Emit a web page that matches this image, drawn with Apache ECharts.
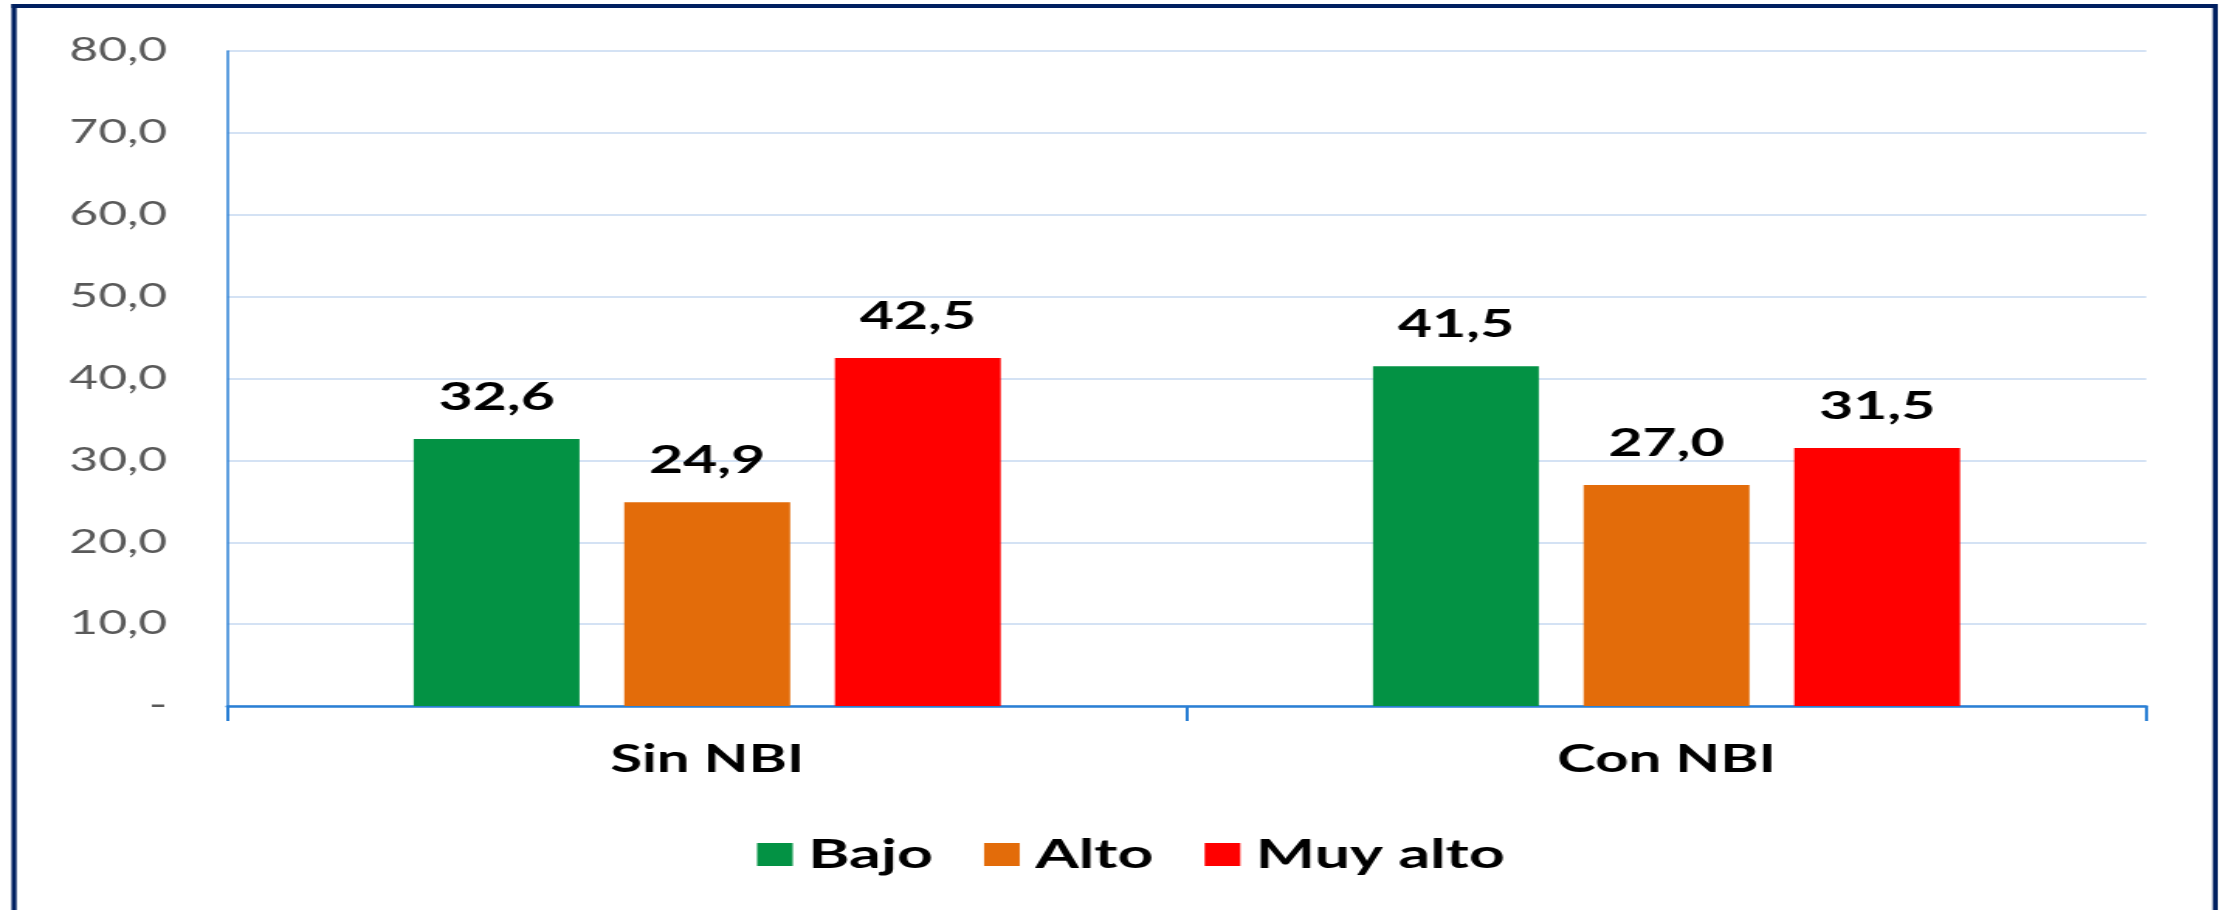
<!DOCTYPE html>
<html>
<head>
<meta charset="utf-8">
<script src="https://cdn.jsdelivr.net/npm/echarts@6/dist/echarts.min.js"></script>
<style>
  html, body { margin: 0; padding: 0; background: #ffffff; overflow: hidden; }
  #chart { position: absolute; left: 0; top: 0; width: 1435px; height: 910px; transform: scaleX(1.54983); transform-origin: 0 0; }
</style>
</head>
<body>
<div id="chart"></div>
<script>
const categories = ['Sin NBI', 'Con NBI'];
const seriesNames = ['Bajo', 'Alto', 'Muy alto'];
const bajo = [32.6, 41.5];
const alto = [24.9, 27.0];
const muyAlto = [42.5, 31.5];
const seriesColors = ['#039244', '#E36C0A', '#FF0000'];
const yTickValues = [0, 10, 20, 30, 40, 50, 60, 70, 80];
const yTickLabels = ['-', '10,0', '20,0', '30,0', '40,0', '50,0', '60,0', '70,0', '80,0'];

const FONT = 'Lato';
const seriesData = [bajo, alto, muyAlto];

function fmt(v) { return v.toFixed(1).replace('.', ','); }

const chart = echarts.init(document.getElementById('chart'), null, { renderer: 'canvas' });

const option = {
  backgroundColor: '#ffffff',
  animation: false,
  grid: { left: 146.8, right: 50.2, top: 51, bottom: 204, containLabel: false },
  legend: {
    data: seriesNames,
    left: 483.5,
    top: 829,
    itemWidth: 23,
    itemHeight: 23,
    itemGap: 33,
    icon: 'rect',
    textStyle: { fontFamily: FONT, fontWeight: 'bold', fontSize: 40.5, color: '#000000', lineHeight: 40, padding: [0, 0, 0, 5] }
  },
  xAxis: {
    type: 'category',
    data: categories,
    boundaryGap: true,
    axisLine: { show: true, lineStyle: { color: '#2A7FD4', width: 2.5 } },
    axisTick: { show: true, alignWithLabel: false, length: 15, inside: false, lineStyle: { color: '#2A7FD4', width: 2 } },
    axisLabel: { margin: 35, fontFamily: FONT, fontWeight: 'bold', fontSize: 37.5, color: '#000000' },
    splitLine: { show: false }
  },
  yAxis: {
    type: 'value',
    min: 0,
    max: 80,
    interval: 10,
    axisLine: { show: true, lineStyle: { color: '#2A7FD4', width: 1.5 } },
    axisTick: { show: false },
    axisLabel: {
      margin: 39,
      fontFamily: FONT,
      fontSize: 32,
      color: '#595959',
      formatter: function (v) { const i = yTickValues.indexOf(v); return i >= 0 ? yTickLabels[i] : ''; }
    },
    splitLine: { show: true, lineStyle: { color: '#C6D9F1', width: 1.5 } }
  },
  series: seriesNames.map(function (name, i) {
    return {
      name: name,
      type: 'bar',
      data: seriesData[i],
      barWidth: 107,
      barGap: '27%',
      itemStyle: { color: seriesColors[i] },
      label: {
        show: true,
        position: 'top',
        distance: 22,
        fontFamily: FONT,
        fontWeight: 'bold',
        fontSize: 38,
        color: '#000000',
        formatter: function (p) { return fmt(p.value); }
      }
    };
  }),
  graphic: [
    { type: 'rect', left: 7.4, top: 4, shape: { width: 3.3, height: 920 }, style: { fill: '#002060' }, silent: true },
    { type: 'rect', left: 7.4, top: 4, shape: { width: 1423.6, height: 4 }, style: { fill: '#002060' }, silent: true },
    { type: 'rect', left: 1427.7, top: 4, shape: { width: 3.3, height: 920 }, style: { fill: '#002060' }, silent: true }
  ]
};

chart.setOption(option);
</script>
</body>
</html>
